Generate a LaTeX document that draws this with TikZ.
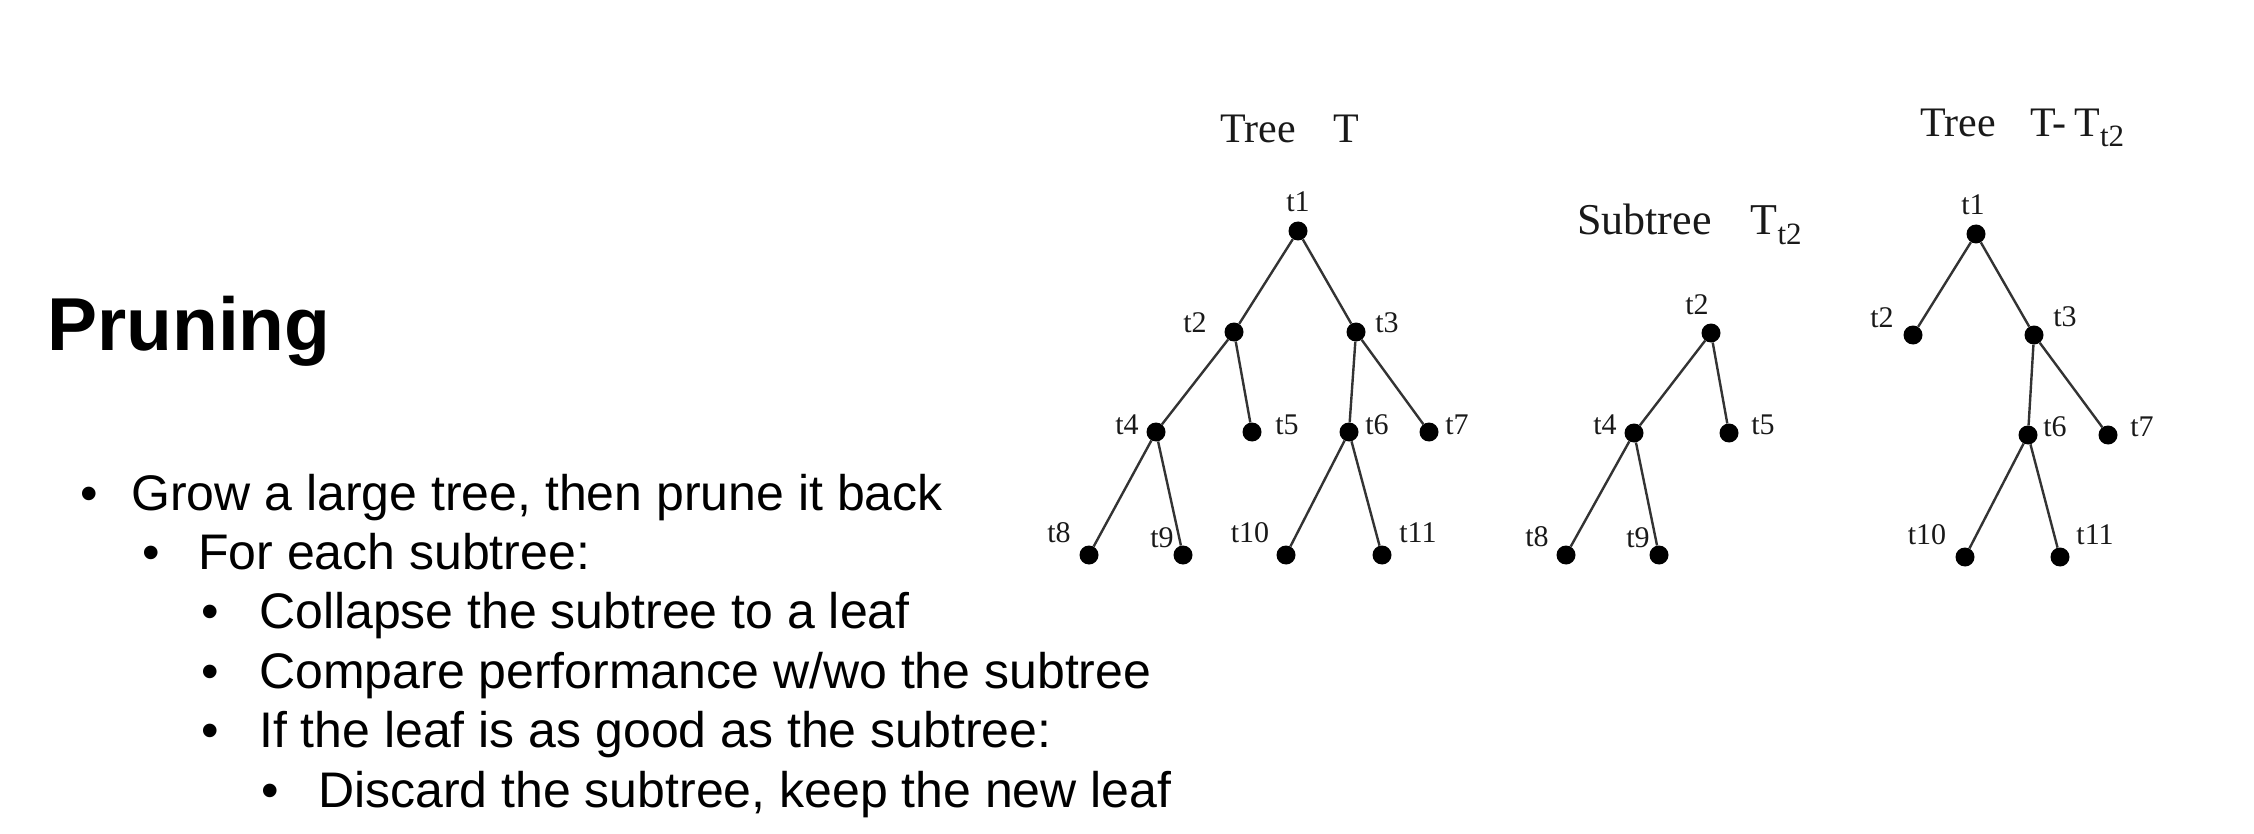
\documentclass[tikz,border=0pt]{standalone}
\usepackage{fontspec}
\setmainfont{Liberation Serif}
\newfontfamily\sansf{Liberation Sans}
\begin{document}
\begin{tikzpicture}[x=1pt,y=-1pt,
  dot/.style={circle,fill=black,inner sep=0pt,minimum size=19pt},
  edge/.style={draw=black!80,line width=2.4pt},
  lbl/.style={inner sep=0pt,anchor=center,font=\fontsize{30}{32}\selectfont,text=black!90},
  ttl/.style={inner sep=0pt,anchor=base west,text=black!90},
  body/.style={inner sep=0pt,anchor=base west,font=\sansf\fontsize{50}{60}\selectfont},
  bul/.style={inner sep=0pt,anchor=base,font=\sansf\fontsize{50}{60}\selectfont}]
\useasboundingbox (0,0) rectangle (2254,834);

% ---- left text ----
\node[ttl,text=black,font=\sansf\bfseries\fontsize{75}{80}\selectfont] (title) at (47,350) {Pruning};

\node[bul] (b1) at (89,510) {\textbullet};
\node[body] (l1) at (131,510) {Grow a large tree, then prune it back};
\node[bul] (b2) at (151,569) {\textbullet};
\node[body] (l2) at (198,569) {For each subtree:};
\node[bul] (b3) at (210,628) {\textbullet};
\node[body] (l3) at (259,628) {Collapse the subtree to a leaf};
\node[bul] (b4) at (210,688) {\textbullet};
\node[body] (l4) at (259,688) {Compare performance w/wo the subtree};
\node[bul] (b5) at (210,747) {\textbullet};
\node[body] (l5) at (259,747) {If the leaf is as good as the subtree:};
\node[bul] (b6) at (270,807) {\textbullet};
\node[body] (l6) at (318,807) {Discard the subtree, keep the new leaf};

% ---- Tree T ----
\node[ttl,font=\fontsize{42}{44}\selectfont] (tA) at (1220,143) {Tree\hspace{38pt}T};
\node[dot] (A1) at (1298,231) {};
\node[dot] (A2) at (1234,332) {};
\node[dot] (A3) at (1356,332) {};
\node[dot] (A4) at (1156,432) {};
\node[dot] (A5) at (1252,432) {};
\node[dot] (A6) at (1349,432) {};
\node[dot] (A7) at (1429,432) {};
\node[dot] (A8) at (1089,555) {};
\node[dot] (A9) at (1183,555) {};
\node[dot] (A10) at (1286,555) {};
\node[dot] (A11) at (1382,555) {};
\draw[edge] (A1) -- (A2) (A1) -- (A3)
  (A2) -- (A4) (A2) -- (A5)
  (A3) -- (A6) (A3) -- (A7)
  (A4) -- (A8) (A4) -- (A9)
  (A6) -- (A10) (A6) -- (A11);
\node[lbl] (LA1) at (1298,202) {t1};
\node[lbl] (LA2) at (1195,323) {t2};
\node[lbl] (LA3) at (1387,323) {t3};
\node[lbl] (LA4) at (1127,425) {t4};
\node[lbl] (LA5) at (1287,425) {t5};
\node[lbl] (LA6) at (1377,425) {t6};
\node[lbl] (LA7) at (1457,425) {t7};
\node[lbl] (LA8) at (1059,533) {t8};
\node[lbl] (LA9) at (1162,538) {t9};
\node[lbl] (LA10) at (1250,533) {t10};
\node[lbl] (LA11) at (1418,533) {t11};

% ---- Subtree T_t2 ----
\node[ttl,font=\fontsize{44}{46}\selectfont] (tB) at (1577,235) {Subtree\hspace{39pt}T\raisebox{-10pt}{\fontsize{31}{32}\selectfont t2}};
\node[dot] (B2) at (1711,333) {};
\node[dot] (B4) at (1634,433) {};
\node[dot] (B5) at (1729,433) {};
\node[dot] (B8) at (1566,555) {};
\node[dot] (B9) at (1659,555) {};
\draw[edge] (B2) -- (B4) (B2) -- (B5)
  (B4) -- (B8) (B4) -- (B9);
\node[lbl] (LB2) at (1697,305) {t2};
\node[lbl] (LB4) at (1605,425) {t4};
\node[lbl] (LB5) at (1763,425) {t5};
\node[lbl] (LB8) at (1537,537) {t8};
\node[lbl] (LB9) at (1638,538) {t9};

% ---- Tree T - T_t2 ----
\node[ttl,font=\fontsize{42}{44}\selectfont] (tC) at (1920,137) {Tree\hspace{35pt}T-\hspace{8pt}T\raisebox{-10pt}{\fontsize{31}{32}\selectfont t2}};
\node[dot] (C1) at (1976,234) {};
\node[dot] (C2) at (1913,335) {};
\node[dot] (C3) at (2034,335) {};
\node[dot] (C6) at (2028,435) {};
\node[dot] (C7) at (2108,435) {};
\node[dot] (C10) at (1965,557) {};
\node[dot] (C11) at (2060,557) {};
\draw[edge] (C1) -- (C2) (C1) -- (C3)
  (C3) -- (C6) (C3) -- (C7)
  (C6) -- (C10) (C6) -- (C11);
\node[lbl] (LC1) at (1973,205) {t1};
\node[lbl] (LC2) at (1882,318) {t2};
\node[lbl] (LC3) at (2065,317) {t3};
\node[lbl] (LC6) at (2055,427) {t6};
\node[lbl] (LC7) at (2142,427) {t7};
\node[lbl] (LC10) at (1927,535) {t10};
\node[lbl] (LC11) at (2095,535) {t11};
\end{tikzpicture}
\end{document}
